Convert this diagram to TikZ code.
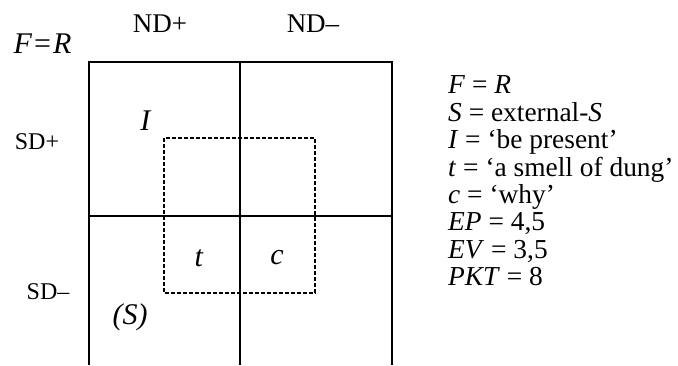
\documentclass[tikz,border=0pt]{standalone}
\usepackage{fontspec}
\setmainfont{Liberation Serif}
\begin{document}
\begin{tikzpicture}[x=1pt,y=-1pt,
  grid/.style={line width=2.2pt},
  dash box/.style={line width=1.5pt, dash pattern=on 4pt off 2pt},
  lbl/.style={inner sep=0pt, font=\fontsize{27}{30}\selectfont},
  cell/.style={inner sep=0pt, font=\fontsize{30}{32}\selectfont},
  side/.style={inner sep=0pt, font=\fontsize{24}{27}\selectfont},
  key/.style={inner sep=0pt, anchor=base west, font=\fontsize{27.4}{27.4}\selectfont}]
\useasboundingbox (0,0) rectangle (678,365);
% grid
\coordinate (tl) at (89,62);
\coordinate (tm) at (240,62);
\coordinate (tr) at (392,62);
\coordinate (ml) at (89,216);
\coordinate (mr) at (392,216);
\coordinate (bl) at (89,365);
\coordinate (bm) at (240,365);
\coordinate (br) at (392,365);
\draw[grid] (bl) -- (tl) -- (tr) -- (br);
\draw[grid] (tm) -- (bm);
\draw[grid] (ml) -- (mr);
% dashed box
\coordinate (d1) at (164,138);
\coordinate (d2) at (315,293);
\draw[dash box] (d1) rectangle (d2);
% labels
\node[cell] (fr) at (42.5,44) {\textit{F}\hspace{2pt}=\hspace{2pt}\textit{R}};
\node[lbl] (ndp) at (160,24) {ND+};
\node[lbl] (ndm) at (313,24) {ND–};
\node[side] (sdp) at (37,142) {SD+};
\node[side] (sdm) at (48,292) {SD–};
\node[cell] (i) at (146,121) {\textit{I}};
\node[cell] (t) at (199,258) {\textit{t}};
\node[cell] (c) at (277,258) {\textit{c}};
\node[cell] (s) at (130,317) {\textit{(S)}};
% key
\node[key] (k1) at (448,93) {\textit{F} = \textit{R}};
\node[key] (k2) at (448,121) {\textit{S} = external-\textit{S}};
\node[key] (k3) at (448,148) {\textit{I} = ‘be present’};
\node[key] (k4) at (448,176) {\textit{t} = ‘a smell of dung’};
\node[key] (k5) at (448,203) {\textit{c} = ‘why’};
\node[key] (k6) at (448,230) {\textit{EP} = 4,5};
\node[key] (k7) at (448,258) {\textit{EV} = 3,5};
\node[key] (k8) at (448,285) {\textit{PKT} = 8};
\end{tikzpicture}
\end{document}
